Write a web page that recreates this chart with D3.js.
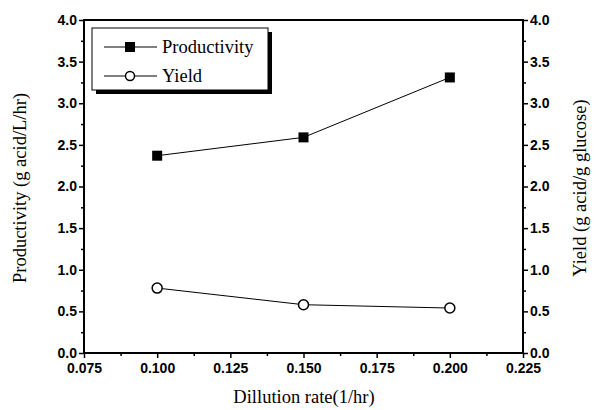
<!DOCTYPE html>
<html>
<head>
<meta charset="utf-8">
<script src="https://cdn.jsdelivr.net/npm/d3@7"></script>
<style>
  body { margin: 0; background: #fff; }
</style>
</head>
<body>
<div id="chart"></div>
<script>
// data
var dilution = [0.100, 0.150, 0.200];
var productivity = [2.37, 2.59, 3.31];
var yieldVals = [0.78, 0.58, 0.54];
var xTicks = [0.075, 0.100, 0.125, 0.150, 0.175, 0.200, 0.225];
var yTicks = [0, 0.5, 1.0, 1.5, 2.0, 2.5, 3.0, 3.5, 4.0];
var legendNames = ["Productivity", "Yield"];

var serif = "'Liberation Serif', 'Times New Roman', serif";
var sans = "'Liberation Sans', Arial, sans-serif";

var svgWidth = 603;
var svgHeight = 410;
var margin = { top: 20, right: 80, bottom: 57, left: 84 };
var width = 523 - margin.left;
var height = 353 - margin.top;

var svg = d3.select("#chart")
  .append("svg")
  .attr("width", svgWidth)
  .attr("height", svgHeight)
  .style("background", "white");

var chartGroup = svg.append("g")
  .attr("transform", `translate(${margin.left}, ${margin.top})`);

var xScale = d3.scaleLinear().domain([0.075, 0.225]).range([0, width]);
var yLeft = d3.scaleLinear().domain([0, 4]).range([height, 0]);
var yRight = d3.scaleLinear().domain([0, 4]).range([height, 0]);

// minor ticks
var xMinor = d3.range(0, 6).map(i => 0.0875 + i * 0.025);
var yMinor = d3.range(0, 8).map(i => 0.25 + i * 0.5);

chartGroup.append("g")
  .attr("transform", `translate(0, ${height})`)
  .call(d3.axisBottom(xScale).tickValues(xMinor).tickSize(3).tickFormat(""));
chartGroup.append("g")
  .call(d3.axisLeft(yLeft).tickValues(yMinor).tickSize(3).tickFormat(""));
chartGroup.append("g")
  .attr("transform", `translate(${width}, 0)`)
  .call(d3.axisRight(yRight).tickValues(yMinor).tickSize(3).tickFormat(""));

// major axes
chartGroup.append("g")
  .attr("transform", `translate(0, ${height})`)
  .call(d3.axisBottom(xScale).tickValues(xTicks).tickSize(5).tickPadding(5).tickFormat(d3.format(".3f")));
chartGroup.append("g")
  .call(d3.axisLeft(yLeft).tickValues(yTicks).tickSize(5).tickPadding(2).tickFormat(d3.format(".1f")));
chartGroup.append("g")
  .attr("transform", `translate(${width}, 0)`)
  .call(d3.axisRight(yRight).tickValues(yTicks).tickSize(5).tickPadding(2).tickFormat(d3.format(".1f")));

chartGroup.selectAll(".domain").remove();
chartGroup.selectAll(".tick line").attr("stroke", "#000").attr("stroke-width", 1.5);
chartGroup.selectAll(".tick text")
  .attr("fill", "#000")
  .style("font-family", sans)
  .style("font-weight", "bold")
  .style("font-size", "14px");

// frame
chartGroup.append("rect")
  .attr("x", 0).attr("y", 0)
  .attr("width", width).attr("height", height)
  .attr("fill", "none")
  .attr("stroke", "#000")
  .attr("stroke-width", 2);

// lines
var lineLeft = d3.line().x((d, i) => xScale(dilution[i])).y(d => yLeft(d));
var lineRight = d3.line().x((d, i) => xScale(dilution[i])).y(d => yRight(d));

chartGroup.append("path")
  .attr("d", lineLeft(productivity))
  .attr("fill", "none").attr("stroke", "#000").attr("stroke-width", 1);
chartGroup.append("path")
  .attr("d", lineRight(yieldVals))
  .attr("fill", "none").attr("stroke", "#000").attr("stroke-width", 1);

chartGroup.selectAll(".sq")
  .data(productivity)
  .enter()
  .append("rect")
  .attr("x", (d, i) => xScale(dilution[i]) - 5)
  .attr("y", d => yLeft(d) - 5)
  .attr("width", 10).attr("height", 10)
  .attr("fill", "#000");

chartGroup.selectAll(".circ")
  .data(yieldVals)
  .enter()
  .append("circle")
  .attr("cx", (d, i) => xScale(dilution[i]))
  .attr("cy", d => yRight(d))
  .attr("r", 5)
  .attr("fill", "white")
  .attr("stroke", "#000")
  .attr("stroke-width", 1.5);

// legend
var legend = svg.append("g");
legend.append("rect")
  .attr("x", 96).attr("y", 32).attr("width", 176).attr("height", 62)
  .attr("fill", "#000");
legend.append("rect")
  .attr("x", 92).attr("y", 28).attr("width", 176).attr("height", 62)
  .attr("fill", "white").attr("stroke", "#000").attr("stroke-width", 1);

legendNames.forEach(function(name, i) {
  var ly = 47 + i * 29;
  legend.append("line")
    .attr("x1", 104).attr("x2", 157).attr("y1", ly).attr("y2", ly)
    .attr("stroke", "#000").attr("stroke-width", 1);
  if (i === 0) {
    legend.append("rect")
      .attr("x", 125).attr("y", ly - 5).attr("width", 10).attr("height", 10)
      .attr("fill", "#000");
  } else {
    legend.append("circle")
      .attr("cx", 130).attr("cy", ly).attr("r", 4.5)
      .attr("fill", "white").attr("stroke", "#000").attr("stroke-width", 1.5);
  }
  legend.append("text")
    .attr("x", 162).attr("y", ly + 6)
    .style("font-family", serif)
    .style("font-size", "18.5px")
    .text(name);
});

// axis titles
function title(t) {
  return svg.append("text")
    .attr("text-anchor", "middle")
    .style("font-family", serif)
    .style("font-size", "18.5px")
    .text(t);
}

title("Dillution rate(1/hr)")
  .attr("x", 304).attr("y", 403);

title("Productivity (g acid/L/hr)")
  .attr("transform", "translate(26, 188) rotate(-90)");

title("Yield (g acid/g glucose)")
  .attr("transform", "translate(586, 188) rotate(-90)");
</script>
</body>
</html>
